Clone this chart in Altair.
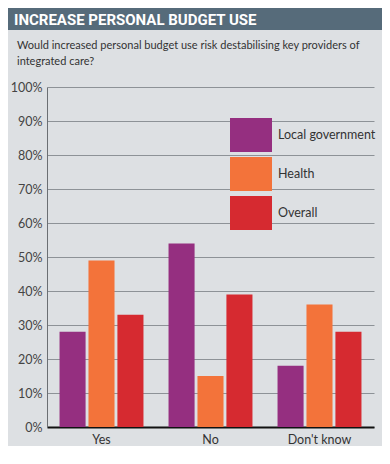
import altair as alt
import pandas as pd

categories = ["Yes", "No", "Don't know"]
series = ["Local government", "Health", "Overall"]
local_gov = [0.28, 0.54, 0.18]
health = [0.49, 0.15, 0.36]
overall = [0.33, 0.39, 0.28]
colors = ["#952f80", "#f3733a", "#d62a30"]
y_ticks = [0.0, 0.1, 0.2, 0.3, 0.4, 0.5, 0.6, 0.7, 0.8, 0.9, 1.0]
title_text = "INCREASE PERSONAL BUDGET USE"
subtitle_lines = [
    "Would increased personal budget use risk destabilising key providers of",
    "integrated care?",
]

rows = []
for s, vals in zip(series, [local_gov, health, overall]):
    for c, v in zip(categories, vals):
        rows.append({"category": c, "series": s, "value": v})
df = pd.DataFrame(rows)

W = 374

header = (
    alt.Chart(pd.DataFrame({"t": [title_text]}))
    .mark_text(align="left", baseline="middle", font="Roboto",
               fontWeight="bold", fontSize=15, color="white")
    .encode(text="t:N", x=alt.value(6), y=alt.value(12))
    .properties(
        width=W, height=22,
        view=alt.ViewBackground(fill="#566b7a", strokeWidth=0),
        title=alt.TitleParams(subtitle_lines, orient="bottom", anchor="start", frame="group",
                              dx=9, offset=10, fontSize=11, font="Lato",
                              color="#333333", fontWeight="normal", lineHeight=16),
    )
)

bars = (
    alt.Chart(df)
    .mark_bar()
    .encode(
        x=alt.X("category:N", sort=categories,
                scale=alt.Scale(range=[39, 366], paddingInner=0.23, paddingOuter=0.115),
                axis=alt.Axis(title=None, labelAngle=0, ticks=False, domainColor="#111111",
                              domainWidth=2, labelFont="Lato", labelFontSize=12.5,
                              labelColor="#333333", labelPadding=6)),
        xOffset=alt.XOffset("series:N", sort=series, scale=alt.Scale(paddingInner=0.1)),
        y=alt.Y("value:Q", scale=alt.Scale(domain=[0, 1], nice=False),
                axis=alt.Axis(values=y_ticks, format=".0%", title=None, ticks=False,
                              offset=-39,
                              domainColor="#6b6f73", gridColor="#8d9297",
                              labelFont="Lato", labelFontSize=12.5, labelColor="#444444",
                              labelPadding=5)),
        color=alt.Color("series:N", sort=series,
                        scale=alt.Scale(domain=series, range=colors),
                        legend=alt.Legend(orient="none", legendX=222, legendY=27, title=None,
                                          symbolType="M-1,-0.81H1V0.81H-1Z", symbolSize=1764,
                                          symbolStrokeWidth=0, symbolOpacity=1,
                                          labelFont="Lato", labelFontSize=12.5,
                                          labelColor="#333333", labelOffset=6,
                                          rowPadding=-1, labelLimit=200)),
    )
    .properties(width=W, height=340)
)

chart = (
    alt.vconcat(header, bars, spacing=14)
    .resolve_legend(color="independent")
    .configure(background="#dde0e3", padding=0)
    .configure_view(strokeWidth=0)
)

chart.save("out.html", embed_options={"renderer": "svg", "actions": False})
